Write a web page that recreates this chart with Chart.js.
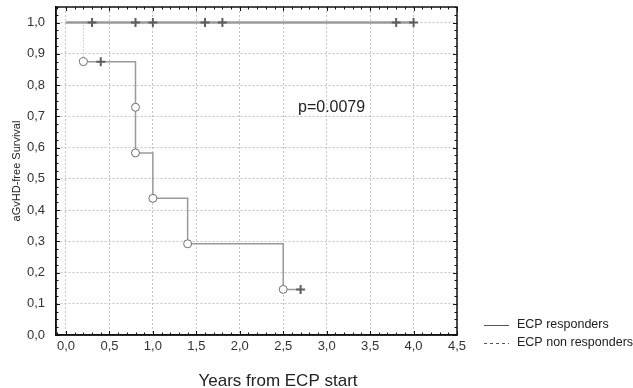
<!DOCTYPE html>
<html>
<head>
<meta charset="utf-8">
<script src="https://cdn.jsdelivr.net/npm/chart.js@4.4.1/dist/chart.umd.min.js"></script>
<style>
  html, body { margin: 0; padding: 0; background: #fff; }
  #wrap { width: 633px; height: 388px; position: relative; }
</style>
</head>
<body>
<div id="wrap"><canvas id="km"></canvas></div>
<script>
// ECP responders: nobody had an event, only censored patients
const respLineTimes = [0, 4.0];
const respLineSurv = [1.0, 1.0];
const respCensorTimes = [0.3, 0.8, 1.0, 1.6, 1.8, 3.8, 4.0];
const respCensorSurv = [1.0, 1.0, 1.0, 1.0, 1.0, 1.0, 1.0];

// ECP non responders
const nonRespEventTimes = [0.2, 0.8, 0.8, 1.0, 1.4, 2.5];
const nonRespEventSurv = [0.875, 0.729, 0.583, 0.4375, 0.292, 0.146];
const nonRespCensorTimes = [0.4, 2.7];
const nonRespCensorSurv = [0.875, 0.146];

// tick labels
const xTicks = [0, 0.5, 1.0, 1.5, 2.0, 2.5, 3.0, 3.5, 4.0, 4.5];
const yTicks = [0, 0.1, 0.2, 0.3, 0.4, 0.5, 0.6, 0.7, 0.8, 0.9, 1.0];

const FONT = '"Liberation Sans", Arial, sans-serif';

function pts(xs, ys) {
    return xs.map((x, i) => ({ x: x, y: ys[i] }));
}
function comma(v) {
    return Number(v).toFixed(1).replace('.', ',');
}

// step line for the non responders, ending at the last censored time
const nonRespLine = pts(nonRespEventTimes, nonRespEventSurv)
    .concat([{ x: nonRespCensorTimes[nonRespCensorTimes.length - 1], y: nonRespEventSurv[nonRespEventSurv.length - 1] }]);
// first drop from 1.0 (drawn dotted in the original)
const nonRespFirstDrop = [{ x: nonRespEventTimes[0], y: 1.0 }, { x: nonRespEventTimes[0], y: nonRespEventSurv[0] }];

const framePlugin = {
    id: 'frame',
    afterDraw(chart) {
        const { ctx, chartArea: a, scales: { x, y } } = chart;
        ctx.save();
        // frame
        ctx.strokeStyle = '#111';
        ctx.lineWidth = 1.5;
        ctx.strokeRect(a.left, a.top, a.right - a.left, a.bottom - a.top);
        // minor ticks pointing inward
        ctx.lineWidth = 1;
        ctx.beginPath();
        for (let i = 0; i <= 42; i++) {
            const py = Math.round(y.getPixelForValue(i * 0.025)) + 0.5;
            const len = i % 4 === 0 ? 4 : 2.5;
            ctx.moveTo(a.left, py); ctx.lineTo(a.left + len, py);
            ctx.moveTo(a.right, py); ctx.lineTo(a.right - len, py);
        }
        for (let i = -1; i <= 45; i++) {
            const px = Math.round(x.getPixelForValue(i * 0.1)) + 0.5;
            const len = i % 5 === 0 ? 4 : 2.5;
            ctx.moveTo(px, a.bottom); ctx.lineTo(px, a.bottom - len);
            ctx.moveTo(px, a.top); ctx.lineTo(px, a.top + len);
        }
        ctx.stroke();

        // p value
        ctx.fillStyle = '#222';
        ctx.font = '16px ' + FONT;
        ctx.textAlign = 'left';
        ctx.textBaseline = 'middle';
        ctx.fillText('p=0.0079', x.getPixelForValue(2.67), y.getPixelForValue(0.728));

        // x axis title
        ctx.font = '17px ' + FONT;
        ctx.textAlign = 'center';
        ctx.textBaseline = 'alphabetic';
        ctx.fillText('Years from ECP start', 278, 386);

        // legend
        ctx.font = '12.5px ' + FONT;
        ctx.textAlign = 'left';
        ctx.textBaseline = 'middle';
        ctx.strokeStyle = '#555';
        ctx.lineWidth = 1;
        ctx.beginPath();
        ctx.moveTo(484, 325.5); ctx.lineTo(509, 325.5);
        ctx.stroke();
        ctx.fillText('ECP responders', 517, 325);
        ctx.setLineDash([3, 3]);
        ctx.beginPath();
        ctx.moveTo(484, 343.5); ctx.lineTo(509, 343.5);
        ctx.stroke();
        ctx.setLineDash([]);
        ctx.fillText('ECP non responders', 517, 343);
        ctx.restore();
    }
};

const ctx = document.getElementById('km').getContext('2d');
new Chart(ctx, {
    type: 'scatter',
    data: {
        datasets: [
            {
                label: 'ECP responders',
                data: pts(respLineTimes, respLineSurv),
                showLine: true,
                borderColor: '#9a9a9a',
                borderWidth: 2.5,
                pointRadius: 0,
                order: 6
            },
            {
                label: 'ECP non responders',
                data: nonRespLine,
                showLine: true,
                stepped: 'before',
                borderColor: '#9a9a9a',
                borderWidth: 1.5,
                pointRadius: 0,
                order: 5
            },
            {
                label: 'first drop',
                data: nonRespFirstDrop,
                showLine: true,
                borderColor: '#a0a0a0',
                borderWidth: 1,
                borderDash: [1, 2],
                pointRadius: 0,
                order: 4
            },
            {
                label: 'responders censored',
                data: pts(respCensorTimes, respCensorSurv),
                pointStyle: 'cross',
                pointRadius: 4.5,
                borderColor: '#5e5e5e',
                borderWidth: 2,
                order: 2
            },
            {
                label: 'non responders censored',
                data: pts(nonRespCensorTimes, nonRespCensorSurv),
                pointStyle: 'cross',
                pointRadius: 4.5,
                borderColor: '#5e5e5e',
                borderWidth: 2,
                order: 2
            },
            {
                label: 'non responders events',
                data: pts(nonRespEventTimes, nonRespEventSurv),
                pointStyle: 'circle',
                pointRadius: 4,
                backgroundColor: '#ffffff',
                borderColor: '#6e6e6e',
                borderWidth: 1,
                order: 1
            }
        ]
    },
    options: {
        responsive: true,
        maintainAspectRatio: false,
        animation: false,
        layout: { padding: { top: 7, right: 176, left: 0, bottom: 0 } },
        plugins: {
            legend: { display: false },
            tooltip: { enabled: false }
        },
        scales: {
            x: {
                type: 'linear',
                min: -0.115,
                max: 4.5,
                afterFit: function(scale) {
                    scale.height = 53;
                    scale.paddingLeft = 0;
                    scale.paddingRight = 0;
                },
                afterBuildTicks: function(scale) { scale.ticks = xTicks.map(v => ({ value: v })); },
                ticks: {
                    callback: comma,
                    color: '#333',
                    font: { family: FONT, size: 13 },
                    padding: 4,
                    maxRotation: 0,
                    autoSkip: false
                },
                grid: { color: '#c4c4c4', lineWidth: 1, drawTicks: false },
                border: { color: '#111', width: 1.5, dash: [2, 2] }
            },
            y: {
                type: 'linear',
                min: 0,
                max: 1.05,
                afterFit: function(scale) {
                    scale.width = 56;
                    scale.paddingTop = 0;
                    scale.paddingBottom = 0;
                },
                afterBuildTicks: function(scale) { scale.ticks = yTicks.map(v => ({ value: v })); },
                ticks: {
                    callback: comma,
                    color: '#333',
                    font: { family: FONT, size: 13 },
                    padding: 11,
                    autoSkip: false
                },
                grid: { color: '#c4c4c4', lineWidth: 1, drawTicks: false },
                border: { color: '#111', width: 1.5, dash: [2, 2] },
                title: {
                    display: true,
                    text: 'aGvHD-free Survival',
                    color: '#222',
                    font: { family: FONT, size: 11 },
                    padding: { top: 10, bottom: 0 }
                }
            }
        }
    },
    plugins: [framePlugin]
});
</script>
</body>
</html>
